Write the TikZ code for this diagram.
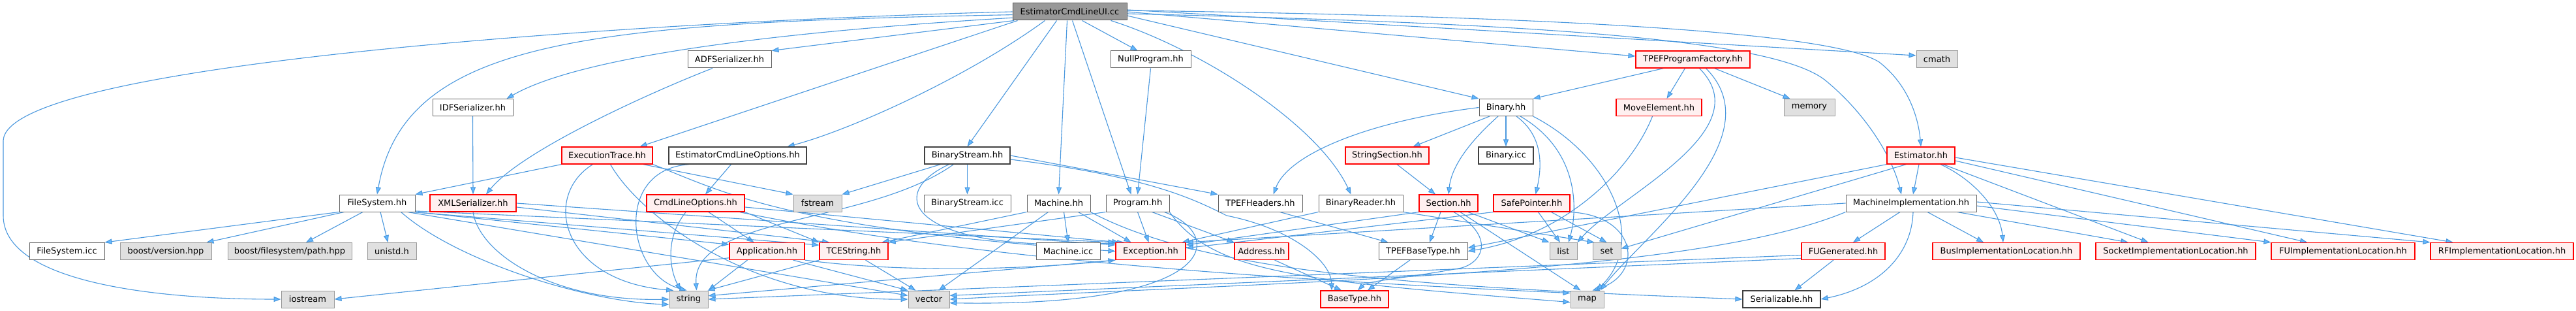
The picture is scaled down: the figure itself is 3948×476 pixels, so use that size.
\documentclass[tikz,border=0pt]{standalone}
\usepackage{fontspec}
\setmainfont{DejaVu Sans}
\usetikzlibrary{arrows.meta}
\definecolor{ecl}{HTML}{4A98DE}
\definecolor{etip}{HTML}{63B8FF}
\definecolor{rootfill}{HTML}{999999}
\definecolor{rootdraw}{HTML}{555555}
\definecolor{redfill}{HTML}{FFF0F0}
\definecolor{extfill}{HTML}{E0E0E0}
\definecolor{extdraw}{HTML}{999999}
\definecolor{wdraw}{HTML}{666666}
\definecolor{bdraw}{HTML}{404040}
\pgfdeclarelayer{bg}
\pgfsetlayers{bg,main}
\tikzset{
 box/.style={rectangle, draw, line width=1pt, minimum height=26pt, inner xsep=4pt, inner ysep=0pt, font=\fontsize{13}{15}\selectfont, text=black},
 rootn/.style={box, fill=rootfill, draw=rootdraw},
 wn/.style={box, fill=white, draw=wdraw},
 bn/.style={box, fill=white, draw=bdraw, line width=1.3pt},
 rn/.style={box, fill=redfill, draw=red, line width=1.2pt},
 gn/.style={box, fill=extfill, draw=extdraw},
 edg/.style={draw=ecl, line width=1.1pt, -{Triangle[length=11pt,width=8pt,fill=etip]}},
}
\begin{document}
\begin{tikzpicture}[x=1pt,y=-1pt]
\useasboundingbox (0,0) rectangle (3948,476);
% row 0
\node[rootn, minimum width=175pt] (R) at (1639.5,18) {EstimatorCmdLineUI.cc};
% row 1
\node[wn, minimum width=128pt] (ADF) at (1118,91) {ADFSerializer.hh};
\node[wn, minimum width=123pt] (NullP) at (1763.5,91) {NullProgram.hh};
\node[rn, minimum width=175pt] (TPF) at (2594.5,91) {TPEFProgramFactory.hh};
\node[gn, minimum width=63pt] (cmath) at (2968.5,91) {cmath};
% row 2
\node[wn, minimum width=123pt] (IDF) at (724.5,164.5) {IDFSerializer.hh};
\node[wn, minimum width=82pt] (Bin) at (2308,164.5) {Binary.hh};
\node[rn, minimum width=131pt] (MoveE) at (2542.5,164.5) {MoveElement.hh};
\node[gn, minimum width=78pt] (memory) at (2773,164.5) {memory};
% row 3
\node[rn, minimum width=139pt] (ExecT) at (930.5,238) {ExecutionTrace.hh};
\node[bn, minimum width=211pt] (ECLO) at (1130.5,238) {EstimatorCmdLineOptions.hh};
\node[bn, minimum width=131pt] (BStr) at (1482.5,238) {BinaryStream.hh};
\node[rn, minimum width=128pt] (StrSec) at (2126,238) {StringSection.hh};
\node[bn, minimum width=84pt] (Binicc) at (2308,238) {Binary.icc};
\node[rn, minimum width=104pt] (Est) at (2944,238) {Estimator.hh};
% row 4
\node[wn, minimum width=116pt] (FS) at (578,311) {FileSystem.hh};
\node[rn, minimum width=132pt] (XML) at (725,311) {XMLSerializer.hh};
\node[rn, minimum width=150pt] (CLO) at (1066,311) {CmdLineOptions.hh};
\node[gn, minimum width=74pt] (fstream) at (1253,311) {fstream};
\node[wn, minimum width=133pt] (BSicc) at (1482.5,311) {BinaryStream.icc};
\node[wn, minimum width=97pt] (Mach) at (1622.5,311) {Machine.hh};
\node[wn, minimum width=97pt] (Prog) at (1743.5,311) {Program.hh};
\node[wn, minimum width=129pt] (TPEFH) at (1931.5,311) {TPEFHeaders.hh};
\node[wn, minimum width=129pt] (BRead) at (2085.5,311) {BinaryReader.hh};
\node[rn, minimum width=90pt] (Sect) at (2220,311) {Section.hh};
\node[rn, minimum width=117pt] (SafeP) at (2347.5,311) {SafePointer.hh};
\node[wn, minimum width=200pt] (MI) at (2929,311) {MachineImplementation.hh};
% row 5
\node[wn, minimum width=115pt] (FSicc) at (102.5,384.5) {FileSystem.icc};
\node[gn, minimum width=140pt] (bver) at (254,384.5) {boost/version.hpp};
\node[gn, minimum width=190pt] (bpath) at (444,384.5) {boost/filesystem/path.hpp};
\node[gn, minimum width=75pt] (unistd) at (600.5,384.5) {unistd.h};
\node[rn, minimum width=115pt] (App) at (1175.5,384.5) {Application.hh};
\node[rn, minimum width=105pt] (TCEStr) at (1308.5,384.5) {TCEString.hh};
\node[wn, minimum width=98pt] (Machicc) at (1637,384.5) {Machine.icc};
\node[rn, minimum width=107pt] (Exc) at (1763.5,384.5) {Exception.hh};
\node[rn, minimum width=83pt] (Addr) at (1933.5,384.5) {Address.hh};
\node[wn, minimum width=136pt] (TBT) at (2181,384.5) {TPEFBaseType.hh};
\node[gn, minimum width=42pt] (list) at (2396,384.5) {list};
\node[gn, minimum width=43pt] (set) at (2462.5,384.5) {set};
\node[rn, minimum width=128pt] (FUG) at (2825,384.5) {FUGenerated.hh};
\node[rn, minimum width=226pt] (BusIL) at (3075,384.5) {BusImplementationLocation.hh};
\node[rn, minimum width=245pt] (SockIL) at (3334.5,384.5) {SocketImplementationLocation.hh};
\node[rn, minimum width=220pt] (FUIL) at (3591,384.5) {FUImplementationLocation.hh};
\node[rn, minimum width=219pt] (RFIL) at (3834.5,384.5) {RFImplementationLocation.hh};
% row 6
\node[gn, minimum width=81pt] (iostream) at (471.5,458) {iostream};
\node[gn, minimum width=59pt] (string) at (1055.5,458) {string};
\node[gn, minimum width=63pt] (vector) at (1423.5,458) {vector};
\node[rn, minimum width=104pt] (BaseT) at (2076,458) {BaseType.hh};
\node[gn, minimum width=51pt] (map) at (2432.5,458) {map};
\node[bn, minimum width=119pt] (Ser) at (2730.5,458) {Serializable.hh};

\begin{pgfonlayer}{bg}
\fill[white] (0,0) rectangle (3948,476);
% root
\draw[edg] (R.west) .. controls (1000,32) and (10,95) .. (5,215) -- (5,330) .. controls (5,430) and (230,458) .. (iostream.west);
\draw[edg] (R.183) .. controls (900,35) and (620,60) .. (FS.north);
\draw[edg] (R.186) .. controls (1250,45) and (900,80) .. ([xshift=-10pt]IDF.north east);
\draw[edg] (R.189) -- (ADF.north east);
\draw[edg] ([xshift=8pt]R.south west) -- ([xshift=-20pt]ExecT.north east);
\draw[edg] ([xshift=50pt]R.south west) .. controls (1480,120) and (1300,200) .. ([xshift=-30pt]ECLO.north east);
\draw[edg] ([xshift=68pt]R.south west) -- (BStr.north);
\draw[edg] ([xshift=84pt]R.south west) -- (Mach.north);
\draw[edg] ([xshift=92pt]R.south west) -- ([xshift=-10pt]Prog.north);
\draw[edg] ([xshift=107pt]R.south west) -- ([xshift=-20pt]NullP.north);
\draw[edg] ([xshift=-25pt]R.south east) .. controls (1840,75) and (2020,190) .. ([xshift=-15pt]BRead.north);
\draw[edg] ([yshift=-6pt]R.east) -- (Bin.north west);
\draw[edg] (R.east) -- ([yshift=5pt]TPF.west);
\draw[edg] ([yshift=3pt]R.east) -- ([yshift=6pt]cmath.west);
\draw[edg] ([yshift=-3pt]R.east) .. controls (2300,35) and (2720,55) .. (2800,125) .. controls (2860,175) and (2900,240) .. ([xshift=-15pt]MI.north);
\draw[edg] ([yshift=2pt]R.east) .. controls (2400,25) and (2810,50) .. (2880,95) .. controls (2925,130) and (2940,180) .. (Est.north);
% serializers
\draw[edg] ([xshift=-26pt]ADF.south) .. controls (1000,140) and (800,230) .. ([xshift=20pt]XML.north);
\draw[edg] (IDF.south) -- (XML.north);
\draw[edg] (NullP.south) -- (Prog.north);
% ExecutionTrace
\draw[edg] (ExecT.south west) -- (FS.north east);
\draw[edg] ([xshift=-22pt]ExecT.south) .. controls (830,300) and (860,430) .. (string.150);
\draw[edg] ([xshift=5pt]ExecT.south) .. controls (980,330) and (1150,460) .. (vector.west);
\draw[edg] ([xshift=-15pt]ExecT.south east) -- (fstream.north west);
\draw[edg] (ExecT.south east) .. controls (1100,290) and (1200,350) .. (Exc.west);
% EstimatorCmdLineOptions
\draw[edg] ([xshift=-10pt]ECLO.south) -- ([xshift=15pt]CLO.north);
\draw[edg] ([xshift=-75pt]ECLO.south) .. controls (940,260) and (960,420) .. ([xshift=-3pt]string.north);
% CmdLineOptions
\draw[edg] ([xshift=-15pt]CLO.south) .. controls (1015,370) and (1030,420) .. ([xshift=-12pt]string.north);
\draw[edg] ([xshift=20pt]CLO.south) -- ([xshift=-20pt]App.north);
\draw[edg] (CLO.south east) -- (TCEStr.north west);
\draw[edg] ([yshift=-6pt]CLO.east) -- ([xshift=6pt]Exc.north west);
\draw[edg] ([xshift=-8pt]CLO.south east) .. controls (1500,400) and (2000,430) .. (map.160);
% XMLSerializer
\draw[edg] (XML.south) .. controls (735,390) and (850,462) .. (string.west);
\draw[edg] (XML.east) -- (Exc.170);
\draw[edg] ([yshift=-6pt]XML.east) -- (TCEStr.160);
% FileSystem
\draw[edg] (FS.south west) -- (FSicc.north east);
\draw[edg] ([xshift=8pt]FS.south west) -- ([xshift=-8pt]bver.north east);
\draw[edg] ([xshift=-22pt]FS.south) -- ([xshift=25pt]bpath.north);
\draw[edg] ([xshift=5pt]FS.south) -- ([xshift=-6pt]unistd.north);
\draw[edg] ([xshift=-22pt]FS.south east) .. controls (700,400) and (900,462) .. (string.195);
\draw[edg] ([xshift=-12pt]FS.south east) -- (vector.170);
\draw[edg] ([yshift=-12pt]FS.east) -- (Exc.north west);
\draw[edg] (FS.south east) -- (App.170);
\draw[edg] ([xshift=-4pt]FS.south east) -- (TCEStr.170);
% Application, TCEString
\draw[edg] (App.190) -- (iostream.east);
\draw[edg] ([xshift=-30pt]App.south) -- (string.north east);
\draw[edg] ([xshift=40pt]App.south) -- (vector.north west);
\draw[edg] (App.south east) .. controls (1400,420) and (1600,410) .. (Exc.south west);
\draw[edg] (TCEStr.south west) -- (string.25);
\draw[edg] ([xshift=18pt]TCEStr.south) -- ([xshift=-20pt]vector.north);
% BinaryStream
\draw[edg] ([xshift=25pt]BStr.south west) -- (fstream.north east);
\draw[edg] ([xshift=45pt]BStr.south west) .. controls (1330,345) and (1060,330) .. ([xshift=12pt]string.north);
\draw[edg] (BStr.south) -- (BSicc.north);
\draw[edg] ([xshift=38pt]BStr.south west) .. controls (1350,300) and (1400,390) .. ([xshift=14pt]Exc.north west);
\draw[edg] (BStr.east) -- (TPEFH.north west);
\draw[edg] ([yshift=-6pt]BStr.east) .. controls (1760,270) and (1830,305) .. (1880,330) .. controls (1980,350) and (2040,400) .. ([xshift=-35pt]BaseT.north);
% Machine
\draw[edg] (Mach.south west) -- ([xshift=-10pt]TCEStr.north east);
\draw[edg] ([xshift=-16pt]Mach.south) -- ([xshift=15pt]vector.north);
\draw[edg] ([xshift=8pt]Mach.south) -- (Machicc.north);
\draw[edg] ([xshift=30pt]Mach.south) -- ([xshift=-30pt]Exc.north);
\draw[edg] (Mach.south east) .. controls (1850,420) and (2200,440) .. (Ser.west);
% Program
\draw[edg] (Prog.south west) -- (TCEStr.north east);
\draw[edg] (Prog.south) -- ([xshift=-3pt]Exc.north);
\draw[edg] ([xshift=-8pt]Prog.south east) .. controls (1880,360) and (1870,470) .. (vector.350);
\draw[edg] ([xshift=22pt]Prog.south) -- (Addr.north west);
\draw[edg] (Prog.south east) .. controls (1860,420) and (2000,430) .. (map.190);
% TPEFHeaders, BinaryReader, Section, SafePointer
\draw[edg] ([xshift=30pt]TPEFH.south) -- ([xshift=15pt]TBT.north west);
\draw[edg] (BRead.south west) -- ([xshift=-6pt]Exc.north east);
\draw[edg] (BRead.south east) -- ([xshift=3pt]set.north west);
\draw[edg] ([xshift=-12pt]Sect.south) -- ([xshift=10pt]TBT.north);
\draw[edg] ([xshift=30pt]Sect.south) -- (list.north west);
\draw[edg] ([xshift=18pt]Sect.south) -- ([xshift=-10pt]map.north);
\draw[edg] ([xshift=8pt]Sect.south) .. controls (2290,360) and (2275,400) .. (2240,410) .. controls (2160,425) and (2095,430) .. ([xshift=5pt]BaseT.north);
\draw[edg] (Sect.south west) -- (Exc.10);
\draw[edg] ([xshift=10pt]SafeP.south) -- ([xshift=-5pt]list.north);
\draw[edg] ([xshift=30pt]SafeP.south) -- (set.north);
\draw[edg] (SafeP.south east) .. controls (2510,330) and (2520,420) .. ([xshift=8pt]map.north);
\draw[edg] (SafeP.south west) -- (Exc.5);
% Binary
\draw[edg] (Bin.west) .. controls (2100,185) and (1975,235) .. ([xshift=20pt]TPEFH.north);
\draw[edg] ([xshift=-25pt]Bin.south) -- ([xshift=-25pt]StrSec.north east);
\draw[edg] ([xshift=-12pt]Bin.south) .. controls (2260,210) and (2225,250) .. (Sect.north);
\draw[edg] (Bin.south) -- (Binicc.north);
\draw[edg] ([xshift=16pt]Bin.south) .. controls (2368,210) and (2362,260) .. ([xshift=6pt]SafeP.north);
\draw[edg] ([xshift=22pt]Bin.south) .. controls (2420,230) and (2418,320) .. ([xshift=8pt]list.north);
\draw[edg] (Bin.south east) .. controls (2470,240) and (2525,370) .. ([xshift=14pt]map.north);
\draw[edg] ([xshift=15pt]StrSec.south) -- ([xshift=-20pt]Sect.north);
% TPEFProgramFactory, MoveElement
\draw[edg] ([xshift=-45pt]TPF.south) -- (Bin.north east);
\draw[edg] ([xshift=-12pt]TPF.south) -- ([xshift=12pt]MoveE.north);
\draw[edg] ([xshift=-55pt]TPF.south east) -- ([xshift=10pt]memory.north west);
\draw[edg] ([xshift=10pt]TPF.south) .. controls (2700,200) and (2480,300) .. (list.north east);
\draw[edg] ([xshift=20pt]TPF.south) .. controls (2720,210) and (2520,360) .. ([xshift=20pt]map.north);
\draw[edg] ([xshift=-10pt]MoveE.south) .. controls (2500,260) and (2400,360) .. (TBT.east);
% Estimator
\draw[edg] ([xshift=-3pt]Est.south) -- ([xshift=3pt]MI.north);
\draw[edg] ([xshift=30pt]Est.south) .. controls (3025,275) and (3065,320) .. ([xshift=-5pt]BusIL.north);
\draw[edg] ([xshift=34pt]Est.south) -- ([xshift=-42pt]SockIL.north);
\draw[edg] ([yshift=-8pt]Est.east) -- ([xshift=-55pt]FUIL.north);
\draw[edg] ([yshift=-3pt]Est.east) -- ([xshift=-75pt]RFIL.north);
\draw[edg] (Est.south west) -- ([yshift=5pt]TBT.east);
\draw[edg] ([xshift=30pt]Est.south west) -- ([yshift=4pt]set.east);
% MachineImplementation
\draw[edg] ([xshift=-17pt]MI.south) -- ([xshift=15pt]FUG.north);
\draw[edg] ([xshift=3pt]MI.south) .. controls (2930,390) and (2880,440) .. (Ser.east);
\draw[edg] ([xshift=25pt]MI.south) -- ([xshift=-35pt]BusIL.north);
\draw[edg] ([xshift=-30pt]MI.south east) -- ([xshift=-73pt]SockIL.north);
\draw[edg] ([yshift=-4pt]MI.east) -- (FUIL.north west);
\draw[edg] ([yshift=2pt]MI.east) -- (RFIL.north west);
\draw[edg] (MI.west) -- (Exc.north east);
\draw[edg] (MI.south west) .. controls (2600,420) and (2000,430) .. (vector.east);
% FUGenerated
\draw[edg] ([xshift=-15pt]FUG.south) -- ([xshift=20pt]Ser.north);
\draw[edg] ([yshift=-6pt]FUG.west) -- (string.east);
\draw[edg] ([yshift=-11pt]FUG.west) -- (vector.10);
% leaves
\draw[edg] ([xshift=20pt]Addr.south) -- ([xshift=-20pt]BaseT.north);
\draw[edg] ([xshift=-20pt]TBT.south) -- ([xshift=20pt]BaseT.north);
\draw[edg] (Exc.south west) -- (string.10);
\end{pgfonlayer}
\end{tikzpicture}
\end{document}
